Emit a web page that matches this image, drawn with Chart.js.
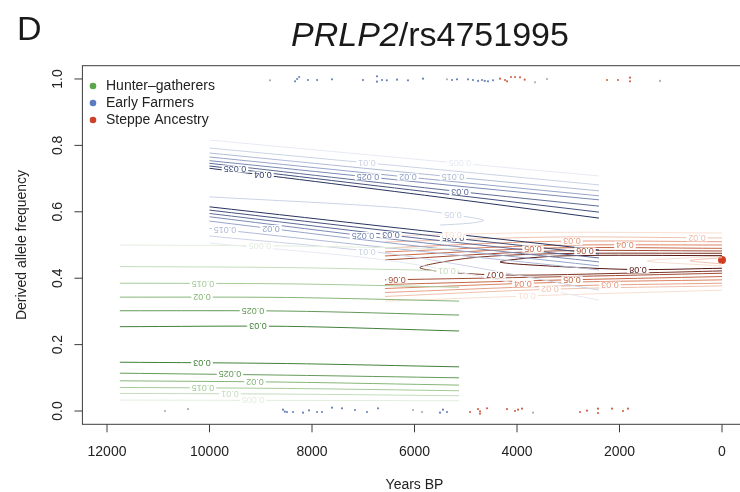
<!DOCTYPE html>
<html>
<head>
<meta charset="utf-8">
<script src="https://cdn.jsdelivr.net/npm/chart.js@4.4.1/dist/chart.umd.min.js"></script>
<style>
  html, body { margin: 0; padding: 0; background: #fff; overflow: hidden; }
  #wrap { width: 760px; height: 492px; }
</style>
</head>
<body>
<div id="wrap"><canvas id="chart" width="760" height="492"></canvas></div>
<script>
// axis ticks and legend
const xTicks = [12000, 10000, 8000, 6000, 4000, 2000, 0];
const yTicks = [0, 0.2, 0.4, 0.6, 0.8, 1.0];
const groups = ['Hunter\u2013gatherers', 'Early Farmers', 'Steppe Ancestry'];

// Hunter-gatherers contours (levels 0.005 .. 0.03)
const hgLevels = ['0.005', '0.01', '0.015', '0.02', '0.025', '0.03'];
const hgX = [11750, 8500, 5130];
const hgUpper = [[0.500, 0.497, 0.488], [0.435, 0.432, 0.422], [0.385, 0.383, 0.373],
                 [0.343, 0.342, 0.331], [0.302, 0.301, 0.289], [0.254, 0.255, 0.241]];
const hgLower = [[0.033, 0.032, 0.031], [0.053, 0.051, 0.046], [0.071, 0.068, 0.061],
                 [0.091, 0.087, 0.078], [0.114, 0.108, 0.100], [0.147, 0.143, 0.133]];
const hgUpperLab = [9015, 5366, 10127, 10146, 9151, 9054];
const hgLowerLab = [9151, 9600, 10127, 9112, 9600, 10146];

// Early farmers contours (levels 0.005 .. 0.04)
const efLevels = ['0.005', '0.01', '0.015', '0.02', '0.025', '0.03', '0.035', '0.04'];
const efUpperX = [10000, 5250, 2400];
const efUpper = [[0.816, 0.748, 0.708], [0.792, 0.723, 0.681], [0.777, 0.705, 0.663], [0.765, 0.691, 0.648],
                 [0.754, 0.679, 0.636], [0.746, 0.663, 0.617], [0.738, 0.651, 0.599], [0.731, 0.639, 0.581]];
const efLowerX = [10000, 6300, 2400];
const efLower = [[0.506, 0.449, 0.334], [0.527, 0.470, 0.364], [0.550, 0.488, 0.425], [0.572, 0.503, 0.437],
                 [0.585, 0.515, 0.449], [0.595, 0.527, 0.461], [0.605, 0.539, 0.473], [0.615, 0.551, 0.485]];
const efUpperLab = [5112, 6927, 5249, 6127, 6907, 5112, 9502, 8956];
const efLowerLab = [null, 6927, 9698, 8800, 7005, 6459, 5249, null];
const efFold = [[10000, 0.645], [6300, 0.612], [4900, 0.583], [4650, 0.574], [4900, 0.566], [5500, 0.560]];

// Steppe ancestry contours (levels 0.01 .. 0.08)
const stLevels = ['0.01', '0.02', '0.03', '0.04', '0.05', '0.06', '0.07', '0.08'];
const stX = [6576, 3300, 0];
const stUpper = [[0.527, 0.538, 0.536], [0.509, 0.524, 0.521], [0.491, 0.511, 0.510],
                 [0.479, 0.499, 0.500], [0.467, 0.491, 0.490], [0.455, 0.482, 0.482]];
const stLower = [[0.331, 0.349, 0.364], [0.345, 0.367, 0.377], [0.357, 0.376, 0.385],
                 [0.369, 0.387, 0.395], [0.381, 0.394, 0.405], [0.395, 0.404, 0.415]];
const stUpperLab = [5249, 488, 2927, 1893, 3688, 2673];
const stLowerLab = [3805, 3356, 2185, 3883, 2927, 6341];
const st07 = [[0, 0.422], [1600, 0.416], [4429, 0.410], [5893, 0.431], [4917, 0.461], [3200, 0.474], [0, 0.475]];
const st08 = [[0, 0.430], [1639, 0.426], [3161, 0.435], [4332, 0.449], [3161, 0.467], [0, 0.468]];
const stInnerA = [[0, 0.437], [1463, 0.452], [0, 0.467]];
const stInnerB = [[0, 0.443], [624, 0.453], [0, 0.462]];
const stEnd = [0, 0.455];

// samples (jittered at 0 and 1)
const topYears = [8820, 8330, 8290, 8250, 8080, 7900, 7610, 7005, 6732, 6732, 6634, 6540, 6341, 6127, 5834, 5366,
                  5268, 5171, 4956, 4859, 4760, 4683, 4630, 4566, 4468, 4332, 4234, 4195, 4117, 4039, 3941, 3850,
                  3649, 3415, 2244, 2029, 1795, 1795, 1210];
const topFreq = [0.996, 0.993, 1.000, 1.006, 0.997, 0.997, 0.999, 0.997, 1.008, 0.992, 0.997, 0.996, 0.998, 0.996,
                 1.001, 0.999, 0.997, 0.999, 0.999, 0.997, 0.994, 0.997, 0.994, 0.993, 0.996, 1.001, 0.997, 0.993,
                 1.006, 1.006, 1.005, 0.998, 0.990, 1.000, 0.997, 0.997, 1.004, 0.993, 0.994];
const topGroup = ['M', 'E', 'E', 'E', 'E', 'E', 'E', 'E', 'E', 'E', 'E', 'E', 'E', 'E', 'E', 'M',
                  'E', 'E', 'E', 'E', 'E', 'E', 'E', 'E', 'E', 'S', 'S', 'S', 'S', 'S', 'S', 'S',
                  'M', 'M', 'S', 'S', 'S', 'S', 'M'];
const bottomYears = [10868, 10420, 8566, 8530, 8488, 8371, 8176, 8059, 7902, 7805, 7610, 7415, 7161, 6927, 6712,
                     6029, 5854, 5502, 5444, 5366, 4917, 4761, 4722, 4722, 4585, 4195, 4039, 3980, 3902, 3688,
                     2771, 2634, 2420, 2420, 2146, 1932, 1834];
const bottomFreq = [0.000, 0.006, 0.004, -0.002, -0.003, -0.003, -0.005, 0.002, -0.003, -0.003, 0.010, 0.008, 0.003,
                    -0.003, 0.008, 0.003, -0.003, -0.005, 0.004, -0.003, -0.003, 0.006, -0.001, -0.008, 0.008, 0.006,
                    0.000, 0.004, 0.007, -0.005, -0.003, 0.001, 0.007, -0.006, 0.007, 0.000, 0.007];
const bottomGroup = ['M', 'M', 'E', 'E', 'E', 'E', 'E', 'E', 'E', 'E', 'E', 'E', 'E', 'E', 'E',
                     'M', 'M', 'E', 'E', 'E', 'S', 'S', 'S', 'S', 'S', 'S', 'S', 'S', 'S', 'M',
                     'S', 'S', 'S', 'S', 'S', 'S', 'S'];

// colours
const legendCols = ['#5aa64a', '#5a7cc0', '#c9452a'];
const dotCols = { E: '#6a84bd', S: '#d4644a', M: '#b0abbd' };
const FONT = '"Liberation Sans", Arial, Helvetica, sans-serif';

function hexRgb(h) { return [1, 3, 5].map(i => parseInt(h.substr(i, 2), 16)); }
function ramp(stops, n) {
    const out = [];
    for (let i = 0; i < n; i++) {
        const s = (i / (n - 1)) * (stops.length - 1);
        const k = Math.min(Math.floor(s), stops.length - 2);
        const a = hexRgb(stops[k]), b = hexRgb(stops[k + 1]), t = s - k;
        out.push('rgb(' + a.map((v, j) => Math.round(v + (b[j] - v) * t)).join(',') + ')');
    }
    return out;
}
const hgCols = ramp(['#e3eedf', '#96c288', '#42803a'], hgLevels.length);
const efCols = ramp(['#e6eaf3', '#8898c2', '#27335e'], efLevels.length);
const stCols = ramp(['#f8dfd2', '#d9734f', '#561611'], stLevels.length);

function line(points, color, text, labX) {
    return {
        data: points.map(p => ({ x: p[0], y: p[1] })),
        showLine: true, borderColor: color, borderWidth: 1,
        pointRadius: 0, tension: 0.3, fill: false,
        tag: (text && labX != null) ? { text: text, x: labX } : null
    };
}
const zipX = (xs, ys) => xs.map((x, i) => [x, ys[i]]);

const datasets = [];
hgLevels.forEach((lv, i) => {
    datasets.push(line(zipX(hgX, hgUpper[i]), hgCols[i], lv, hgUpperLab[i]));
    datasets.push(line(zipX(hgX, hgLower[i]), hgCols[i], lv, hgLowerLab[i]));
});
efLevels.forEach((lv, i) => {
    datasets.push(line(zipX(efUpperX, efUpper[i]), efCols[i], lv, efUpperLab[i]));
    datasets.push(line(zipX(efLowerX, efLower[i]), efCols[i], lv, efLowerLab[i]));
});
datasets.push(line(efFold, efCols[1], '0.05', 5249));
stLevels.slice(0, 6).forEach((lv, i) => {
    datasets.push(line(zipX(stX, stUpper[i]), stCols[i], lv, stUpperLab[i]));
    datasets.push(line(zipX(stX, stLower[i]), stCols[i], lv, stLowerLab[i]));
});
datasets.push(line(st07, stCols[6], '0.07', 4429));
datasets.push(line(st08, stCols[7], '0.08', 1639));
datasets.push(line(stInnerA, stCols[0], null, null));
datasets.push(line(stInnerB, stCols[1], null, null));

['E', 'S', 'M'].forEach(g => {
    const pts = [];
    topYears.forEach((x, i) => { if (topGroup[i] === g) pts.push({ x: x, y: topFreq[i] }); });
    bottomYears.forEach((x, i) => { if (bottomGroup[i] === g) pts.push({ x: x, y: bottomFreq[i] }); });
    datasets.push({ data: pts, pointRadius: 1.1, pointBorderWidth: 0, pointBackgroundColor: dotCols[g] });
});
datasets.push({ data: [{ x: stEnd[0], y: stEnd[1] }], pointRadius: 4, pointBorderWidth: 0, pointBackgroundColor: '#cf3d22' });

// R-like box, axes, labels, title and legend
const rPlot = {
    id: 'rPlot',
    afterDatasetsDraw(chart) {
        const ctx = chart.ctx, xs = chart.scales.x;
        ctx.save();
        ctx.font = '9px ' + FONT;
        ctx.textAlign = 'center';
        ctx.textBaseline = 'middle';
        chart.data.datasets.forEach((ds, i) => {
            if (!ds.tag) return;
            const pts = chart.getDatasetMeta(i).data;
            const px = xs.getPixelForValue(ds.tag.x);
            for (let k = 0; k < pts.length - 1; k++) {
                const a = pts[k], b = pts[k + 1];
                if ((px - a.x) * (px - b.x) <= 0 && a.x !== b.x) {
                    const py = a.y + (b.y - a.y) * (px - a.x) / (b.x - a.x);
                    const w = ctx.measureText(ds.tag.text).width + 4;
                    ctx.save();
                    ctx.translate(px, py);
                    ctx.rotate(Math.PI);
                    ctx.fillStyle = '#fff';
                    ctx.fillRect(-w / 2, -3.5, w, 7);
                    ctx.fillStyle = ds.borderColor;
                    ctx.fillText(ds.tag.text, 0, 0.5);
                    ctx.restore();
                    break;
                }
            }
        });
        ctx.restore();
    },
    afterDraw(chart) {
        const ctx = chart.ctx, xs = chart.scales.x, ys = chart.scales.y;
        const { left, right, top, bottom } = chart.chartArea;
        ctx.save();
        ctx.strokeStyle = '#3c3c3c';
        ctx.lineWidth = 1;
        ctx.strokeRect(left, top, right - left, bottom - top);

        ctx.fillStyle = '#222';
        ctx.font = '14px ' + FONT;
        ctx.textAlign = 'center';
        ctx.textBaseline = 'middle';
        xTicks.forEach(v => {
            const x = xs.getPixelForValue(v);
            ctx.beginPath(); ctx.moveTo(x, bottom); ctx.lineTo(x, bottom + 8); ctx.stroke();
            ctx.fillText(String(v), x, bottom + 28);
        });
        yTicks.forEach(v => {
            const y = ys.getPixelForValue(v);
            ctx.beginPath(); ctx.moveTo(left - 8, y); ctx.lineTo(left, y); ctx.stroke();
            ctx.save();
            ctx.translate(left - 24, y);
            ctx.rotate(-Math.PI / 2);
            ctx.fillText(v.toFixed(1), 0, 0);
            ctx.restore();
        });
        ctx.fillText('Years BP', (left + right) / 2, 485);
        ctx.save();
        ctx.translate(22, (top + bottom) / 2);
        ctx.rotate(-Math.PI / 2);
        ctx.fillText('Derived allele frequency', 0, 0);
        ctx.restore();

        // legend
        ctx.textAlign = 'left';
        groups.forEach((g, i) => {
            const y = 86 + i * 17;
            ctx.fillStyle = legendCols[i];
            ctx.beginPath(); ctx.arc(93, y, 3.3, 0, Math.PI * 2); ctx.fill();
            ctx.fillStyle = '#222';
            ctx.fillText(g, 106, y);
        });

        // panel letter and title
        ctx.textBaseline = 'alphabetic';
        ctx.fillStyle = '#1a1a1a';
        ctx.font = '34px ' + FONT;
        ctx.fillText('D', 17, 40);
        ctx.font = 'italic 34px ' + FONT;
        const gene = 'PRLP2';
        ctx.fillText(gene, 291, 46);
        const w = ctx.measureText(gene).width;
        ctx.font = '34px ' + FONT;
        ctx.fillText('/rs4751995', 291 + w, 46);
        ctx.restore();
    }
};

new Chart(document.getElementById('chart'), {
    type: 'scatter',
    data: { datasets: datasets },
    options: {
        responsive: false,
        animation: false,
        devicePixelRatio: 1,
        events: [],
        layout: { padding: { left: 82.4, right: 13.4, top: 65.7, bottom: 67.7 } },
        plugins: { legend: { display: false }, tooltip: { enabled: false } },
        scales: {
            x: { type: 'linear', min: -480, max: 12480, reverse: true, display: false },
            y: { type: 'linear', min: -0.04, max: 1.04, display: false }
        }
    },
    plugins: [rPlot]
});
</script>
</body>
</html>
